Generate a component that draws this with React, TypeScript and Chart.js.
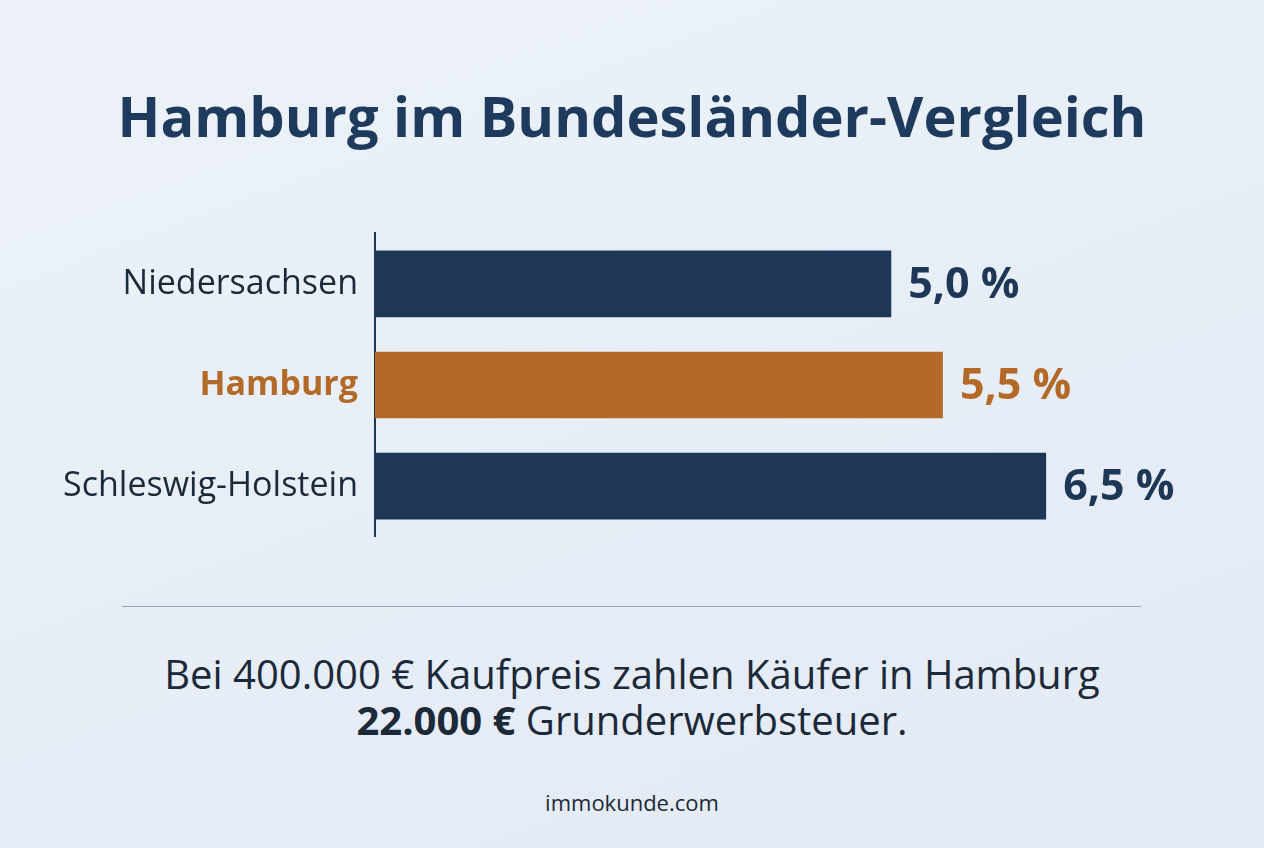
import React, { useEffect, useRef } from "react";
import { Chart, registerables } from "chart.js";

Chart.register(...registerables);

const categories = ["Niedersachsen", "Hamburg", "Schleswig-Holstein"];
const rates = [5.0, 5.5, 6.5];
const valueLabels = ["5,0 %", "5,5 %", "6,5 %"];
const highlightIndex = 1;

const NAVY = "#1e3756";
const ORANGE = "#b36a28";
const TEXT = "#1c2938";
const FONT = "'Open Sans', 'Noto Sans', sans-serif";

export default function App() {
  const ref = useRef<HTMLCanvasElement | null>(null);

  useEffect(() => {
    document.body.style.margin = "0";
    const canvas = ref.current;
    if (!canvas) return;
    const valuePlugin = {
      id: "valueLabels",
      afterDatasetsDraw(chart: any) {
        const ctx = chart.ctx;
        const meta = chart.getDatasetMeta(0);
        ctx.save();
        ctx.font = `700 43px ${FONT}`;
        ctx.textBaseline = "middle";
        ctx.textAlign = "left";
        meta.data.forEach((bar: any, i: number) => {
          ctx.fillStyle = i === highlightIndex ? ORANGE : NAVY;
          ctx.fillText(valueLabels[i], bar.x + 17, bar.y + 2);
        });
        ctx.restore();
      },
    };
    const chart = new Chart(canvas, {
      type: "bar",
      data: {
        labels: categories,
        datasets: [
          {
            data: rates,
            backgroundColor: rates.map((_, i) => (i === highlightIndex ? ORANGE : NAVY)),
            barPercentage: 0.66,
            categoryPercentage: 1,
            borderWidth: 0,
          },
        ],
      },
      options: {
        indexAxis: "y",
        animation: false,
        responsive: false,
        maintainAspectRatio: false,
        layout: { padding: { top: 0, bottom: 0, right: 63, left: 0 } },
        plugins: { legend: { display: false }, tooltip: { enabled: false } },
        scales: {
          x: { display: false, min: 0, max: 8 },
          y: {
            grid: { display: false, drawTicks: false },
            border: { display: true, color: NAVY, width: 2 },
            afterFit(scale: any) {
              scale.width = 375;
            },
            ticks: {
              padding: 17,
              color: (c: any) => (c.index === highlightIndex ? ORANGE : TEXT),
              font: (c: any) => ({
                family: FONT,
                size: 34,
                weight: c.index === highlightIndex ? "bold" : "normal",
              }),
            },
          },
        },
      },
      plugins: [valuePlugin],
    } as any);
    return () => chart.destroy();
  }, []);

  return (
    <div
      style={{
        position: "fixed",
        left: 0,
        top: 0,
        width: 1264,
        height: 848,
        background: "linear-gradient(160deg, #edf2f8 0%, #e6edf6 60%, #e3eaf4 100%)",
        fontFamily: FONT,
        overflow: "hidden",
      }}
    >
      <div
        style={{
          position: "absolute",
          top: 80,
          left: 0,
          width: 1264,
          textAlign: "center",
          fontSize: 56,
          lineHeight: "70px",
          fontWeight: 700,
          color: "#1e3a5c",
        }}
      >
        Hamburg im Bundesländer-Vergleich
      </div>
      <canvas
        ref={ref}
        width={1264}
        height={378}
        style={{ position: "absolute", left: 0, top: 196, width: 1264, height: 378 }}
      />
      <div
        style={{
          position: "absolute",
          top: 606,
          left: 122,
          width: 1019,
          height: 1,
          background: "#9aa6b6",
        }}
      />
      <div
        style={{
          position: "absolute",
          top: 651,
          left: 0,
          width: 1264,
          textAlign: "center",
          fontSize: 40,
          lineHeight: "46px",
          color: TEXT,
        }}
      >
        Bei 400.000 € Kaufpreis zahlen Käufer in Hamburg
        <br />
        <b>22.000 €</b> Grunderwerbsteuer.
      </div>
      <div
        style={{
          position: "absolute",
          top: 787,
          left: 0,
          width: 1264,
          textAlign: "center",
          fontSize: 22,
          lineHeight: "30px",
          color: TEXT,
        }}
      >
        immokunde.com
      </div>
    </div>
  );
}
